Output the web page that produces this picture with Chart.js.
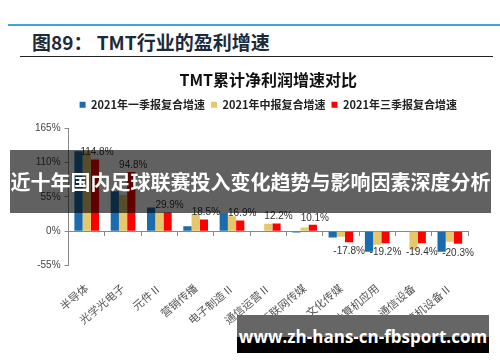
<!DOCTYPE html>
<html>
<head>
<meta charset="utf-8">
<script src="https://cdn.jsdelivr.net/npm/chart.js@4.4.1/dist/chart.umd.min.js"></script>
<style>
  html, body { margin: 0; padding: 0; background: #fff; }
  #page { position: relative; width: 500px; height: 362px; overflow: hidden; font-family: "Noto Sans CJK SC", sans-serif; }
  #topline { position: absolute; left: 8px; right: 0; top: 24px; height: 2px; background: #45a3dc; }
  #figtitle { position: absolute; left: 32px; top: 30px; font-size: 19px; font-weight: 700; color: #1d2a3a; line-height: 24px; white-space: nowrap; }
  #underline { position: absolute; left: 20px; width: 473px; top: 56px; height: 1px; background: #222; }
  #wrap { position: absolute; left: 0; top: 58px; width: 500px; height: 300px; }
  #banner { position: absolute; left: 10px; width: 481px; top: 150px; height: 63px; background: rgba(0,0,0,0.62); color: #fff; font-size: 20px; font-weight: 700; line-height: 63px; text-align: center; white-space: nowrap; z-index: 5; }
  #mark { position: absolute; left: 237px; width: 252px; top: 315px; height: 38px; background: linear-gradient(#666 0, #666 58%, #000 58%, #000 100%); color: #fff; font-family: "Open Sans", sans-serif; font-size: 17px; font-weight: 700; line-height: 44px; text-align: center; white-space: nowrap; z-index: 5; }
</style>
</head>
<body>
<div id="page">
  <div id="topline"></div>
  <div id="figtitle">图89： TMT行业的盈利增速</div>
  <div id="underline"></div>
  <div id="wrap"><canvas id="chart"></canvas></div>
  <div id="banner">近十年国内足球联赛投入变化趋势与影响因素深度分析</div>
  <div id="mark">www.zh-hans-cn-fbsport.com</div>
</div>
<script>
// categories and values
const categories = ['半导体', '光学光电子', '元件Ⅱ', '营销传播', '电子制造Ⅱ', '通信运营Ⅱ', '互联网传媒', '文化传媒', '计算机应用', '通信设备', '计算机设备Ⅱ'];
const seriesNames = ['2021年一季报复合增速', '2021年中报复合增速', '2021年三季报复合增速'];
const q1Growth = [128, 64, 38, 8, 29, -1, -2, -10, -33, -1, -33];
const h1Growth = [128, 58, 30, 28, 24, 12, 6, -9, -22, -30, -17];
const q3Growth = [114.8, 94.8, 29.9, 18.5, 16.9, 12.2, 10.1, -17.8, -19.2, -19.4, -20.3];
const yTicks = [-55, 0, 55, 110, 165];
const colors = ['#1b6cae', '#e8c76c', '#ff0000'];

// labels on the third series only
const valueLabels = {
    id: 'valueLabels',
    afterDatasetsDraw(chart) {
        const ctx = chart.ctx;
        const meta = chart.getDatasetMeta(2);
        ctx.save();
        ctx.font = '10px "Liberation Sans", Arial, sans-serif';
        ctx.fillStyle = '#333';
        ctx.textAlign = 'center';
        meta.data.forEach((bar, i) => {
            const v = q3Growth[i];
            if (v >= 0) {
                ctx.textBaseline = 'bottom';
                ctx.fillText(v.toFixed(1) + '%', bar.x + 2, bar.y - 2);
            } else {
                ctx.textBaseline = 'top';
                ctx.fillText(v.toFixed(1) + '%', bar.x, bar.y + 4);
            }
        });
        ctx.restore();
    }
};

// extra space under the legend
const legendGap = {
    id: 'legendGap',
    beforeInit(chart) {
        const fit = chart.legend.fit;
        chart.legend.fit = function () {
            fit.bind(chart.legend)();
            this.height += 8;
        };
    }
};

new Chart(document.getElementById('chart'), {
    type: 'bar',
    data: {
        labels: categories,
        datasets: [
            { label: seriesNames[0], data: q1Growth, backgroundColor: colors[0] },
            { label: seriesNames[1], data: h1Growth, backgroundColor: colors[1] },
            { label: seriesNames[2], data: q3Growth, backgroundColor: colors[2] }
        ]
    },
    options: {
        responsive: true,
        maintainAspectRatio: false,
        animation: false,
        datasets: { bar: { categoryPercentage: 0.68, barPercentage: 1 } },
        layout: { padding: { left: 31, right: 32, bottom: 16, top: 0 } },
        scales: {
            x: {
                position: { y: 0 },
                ticks: { display: false },
                grid: { drawOnChartArea: false, drawTicks: true, tickLength: 4, color: '#888', offset: true },
                border: { display: true, color: '#888' }
            },
            x2: {
                type: 'category',
                labels: categories,
                position: 'bottom',
                offset: true,
                grid: { display: false },
                border: { display: false },
                ticks: {
                    minRotation: 40, maxRotation: 40, padding: 8, autoSkip: false,
                    color: '#555',
                    font: { family: '"Noto Sans CJK SC", sans-serif', size: 11 }
                }
            },
            y: {
                min: -55, max: 165,
                afterBuildTicks(scale) { scale.ticks = yTicks.map(v => ({ value: v })); },
                ticks: {
                    padding: 4,
                    color: '#444',
                    font: { family: '"Liberation Sans", Arial, sans-serif', size: 10 },
                    callback: v => v + '%'
                },
                grid: { drawOnChartArea: false, tickLength: 4, color: '#888' },
                border: { display: true, color: '#888' }
            }
        },
        plugins: {
            title: {
                display: true,
                fullSize: false,
                text: 'TMT累计净利润增速对比',
                color: '#111',
                font: { family: '"Noto Sans CJK SC", sans-serif', size: 16, weight: 'bold' },
                padding: { top: 12, bottom: 4 }
            },
            legend: {
                fullSize: false,
                labels: {
                    boxWidth: 6, boxHeight: 6, padding: 6,
                    color: '#222',
                    font: { family: '"Noto Sans CJK SC", sans-serif', size: 11, weight: 'bold' }
                }
            },
            tooltip: { enabled: false }
        }
    },
    plugins: [valueLabels, legendGap]
});
</script>
</body>
</html>
